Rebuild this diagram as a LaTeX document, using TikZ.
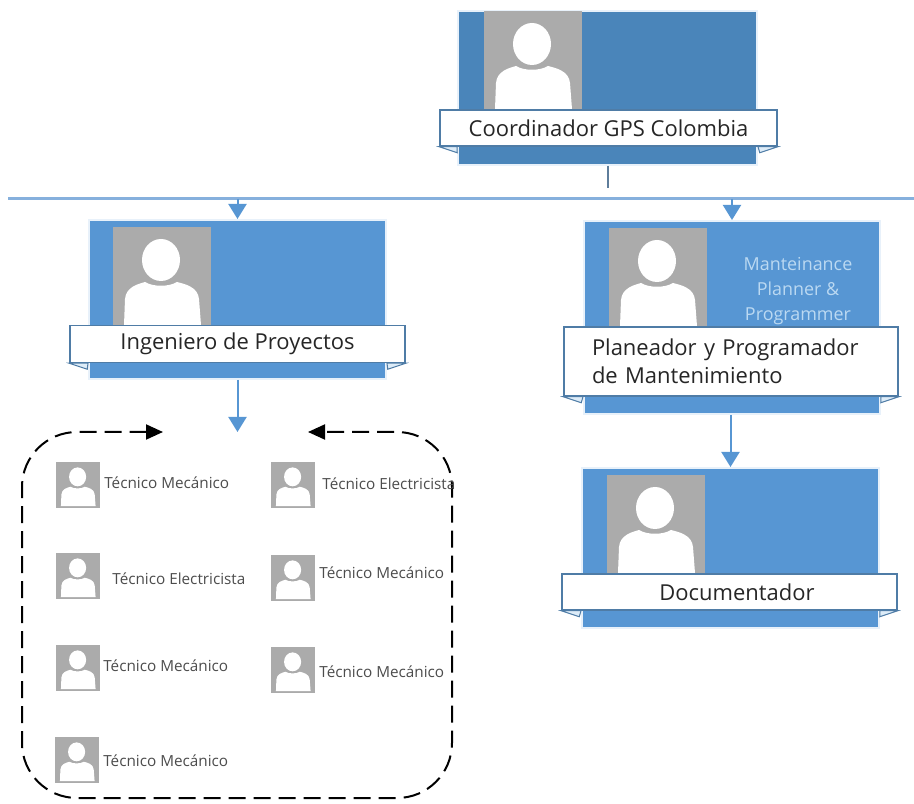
\documentclass[tikz,border=0pt]{standalone}
\usepackage{fontspec}
\setmainfont{Open Sans}
\usetikzlibrary{arrows.meta}
\definecolor{azulosc}{HTML}{4A85BA}
\definecolor{azul}{HTML}{5796D3}
\definecolor{azulbarra}{HTML}{86B0DD}
\definecolor{azulclaro}{HTML}{BBD9F2}
\definecolor{gristenue}{HTML}{ABABAB}
\definecolor{sombra}{HTML}{E8F1FA}
\definecolor{borde}{HTML}{4F7CA6}
\def\px{0.02cm}
\tikzset{
    card/.style={fill=#1, draw=sombra, line width=2*\px, inner sep=0pt},
    foto/.style={fill=gristenue, inner sep=0pt, anchor=north west},
    banner/.style={fill=white, draw=borde, line width=1.5*\px, inner sep=0pt,
        font=\fontsize{12.5}{15.9}\selectfont, text=black!85},
    fold/.style={fill=azulclaro!50, draw=borde, line width=1*\px},
    tecnico/.style={inner sep=0pt, anchor=west, text=black!70,
        font=\fontsize{8.7}{10}\selectfont},
    flecha/.style={draw=azul, line width=2*\px,
        -{Triangle[width=18*\px, length=15*\px]}},
    grupo/.style={black, dashed, line width=2*\px, dash pattern=on 17*\px off 8*\px,
        rounded corners=1.1cm, {Triangle[width=15*\px, length=17*\px]}-{Triangle[width=15*\px, length=17*\px]}},
    pics/persona/.style={code={
        \fill[white] (48,33) ellipse [x radius=19, y radius=21];
        \fill[white] (11,98) -- (12,72) .. controls (13,60) and (25,57) .. (32,55)
            .. controls (40,60) and (56,60) .. (64,55)
            .. controls (72,57) and (85,60) .. (86,72) -- (88,98) -- cycle;
    }},
}
\begin{document}
\begin{tikzpicture}[x=0.02cm, y=-0.02cm]
    \useasboundingbox (0,0) rectangle (914,804);

    % tarjetas
    \foreach \x/\y/\w/\h/\col/\name in {
        607.5/88/299/154/azulosc/coord,
        237.5/299.5/297/159/azul/ing,
        732/317.5/296/193/azul/plan,
        730.5/548/297/160/azul/doc} {
        \node [card=\col, minimum width=\w*\px, minimum height=\h*\px] (\name) at (\x, \y) {};
    }

    % fotos
    \foreach \x/\y/\name in {484/11/coord, 113/227/ing, 609/228/plan, 607/475/doc} {
        \node [foto, minimum width=98*\px, minimum height=99*\px] (\name foto) at (\x, \y) {};
        \pic at (\name foto.north west) {persona};
    }

    \node [text=azulclaro, align=center, inner sep=0pt,
        font=\fontsize{10.2}{14}\selectfont] (plantxt) at (798, 291)
        {Manteinance\\Planner \&\\Programmer};

    % cintas
    \node [banner, minimum width=337*\px, minimum height=36*\px] (coordban) at (608.5, 128) {Coordinador GPS Colombia};
    \node [banner, minimum width=335*\px, minimum height=37*\px] (ingban) at (237.5, 344) {Ingeniero de Proyectos};
    \node [banner, minimum height=69*\px, text width=278*\px, inner xsep=28*\px, align=left] (planban) at (731, 361.5)
        {Planeador y Programador\\de Mantenimiento};
    \node [banner, minimum width=335*\px, minimum height=36*\px] (docban) at (729.5, 592) {\hspace{8.5pt}Documentador};

    \foreach \name in {coord, ing, plan, doc} {
        \draw [fold] (\name ban.south west) -- ++(18, 6) -- (\name ban.south west -| \name.west) -- cycle;
        \draw [fold] (\name ban.south east) -- ++(-18, 6) -- (\name ban.south east -| \name.east) -- cycle;
    }

    % barra y conectores
    \coordinate (barraL) at (8, 199);
    \coordinate (barraR) at (914, 199);
    \coordinate (barraT) at (608, 188);
    \coordinate (grupoT) at (237.5, 432);
    \draw [azulbarra, line width=3*\px] (barraL) -- (barraR);
    \draw [borde!70!gray, line width=1.2*\px] (coord.south -| barraT) -- (barraT);
    \draw [flecha] (barraL -| ing.north) -- (ing.north);
    \draw [flecha] (barraL -| plan.north) -- (plan.north);
    \draw [flecha] (ing.south) -- (grupoT);
    \draw [flecha] (plan.south -| doc.north) -- (doc.north);

    % grupo de tecnicos
    \coordinate (grupoL) at (163, 432);
    \coordinate (grupoR) at (308, 432);
    \draw [grupo] (grupoL) -- (22, 432) -- (22, 798) -- (452, 798) -- (452, 432) -- (grupoR);

    \foreach \x/\y/\tx/\ty/\txt/\name in {
        56/462/104/483/Técnico Mecánico/t1,
        56/553/112/579/Técnico Electricista/t2,
        56/645/103/666/Técnico Mecánico/t3,
        55/737/103/761/Técnico Mecánico/t4,
        271/462/322/484/Técnico Electricista/t5,
        271/555/319/573/Técnico Mecánico/t6,
        271/647/319/672/Técnico Mecánico/t7} {
        \node [foto, minimum width=44*\px, minimum height=46*\px] (\name) at (\x, \y) {};
        \pic [scale=0.45] at (\name.north west) {persona};
        \node [tecnico] (\name txt) at (\tx, \ty) {\txt};
    }
\end{tikzpicture}
\end{document}
